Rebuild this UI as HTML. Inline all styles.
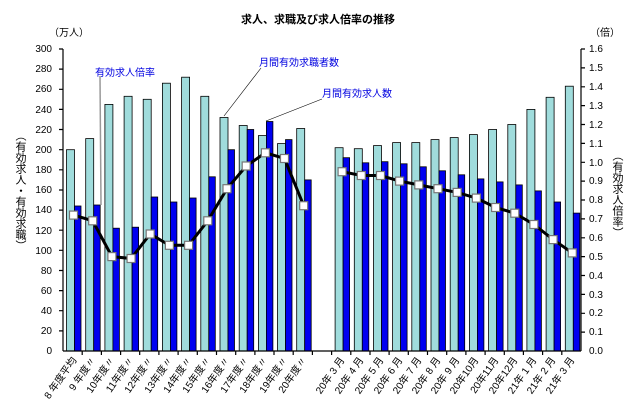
<!DOCTYPE html>
<html><head><meta charset="utf-8"><style>
body{margin:0;background:#fff}
svg{display:block;font-family:"Liberation Sans","Noto Sans CJK JP",sans-serif}
.v{writing-mode:vertical-rl;font-size:11px}
</style></head><body>
<svg width="636" height="413" viewBox="0 0 636 413" xmlns="http://www.w3.org/2000/svg">
<text x="318" y="23" font-size="11" text-anchor="middle" font-weight="bold">求人、求職及び求人倍率の推移</text>
<text x="49" y="36" font-size="10">（万人）</text>
<text x="590" y="36" font-size="10">（倍）</text>
<text x="20" y="130" class="v">（有効求人・有効求職）</text>
<text x="617" y="150" class="v">（有効求人倍率）</text>
<!-- light bars -->
<g fill="#a0dcdc" stroke="#000" stroke-width="0.8">
<rect x="66.5" y="149.7" width="8" height="201.3"/><rect x="85.7" y="138.6" width="8" height="212.4"/><rect x="104.9" y="104.4" width="8" height="246.6"/><rect x="124.1" y="96.3" width="8" height="254.7"/><rect x="143.2" y="99.3" width="8" height="251.7"/><rect x="162.4" y="83.2" width="8" height="267.8"/><rect x="181.6" y="77.2" width="8" height="273.8"/><rect x="200.8" y="96.3" width="8" height="254.7"/><rect x="220" y="117.5" width="8" height="233.5"/><rect x="239.2" y="125.5" width="8" height="225.5"/><rect x="258.4" y="135.6" width="8" height="215.4"/><rect x="277.5" y="143.6" width="8" height="207.4"/><rect x="296.7" y="128.5" width="8" height="222.5"/>
<rect x="335.1" y="147.7" width="8" height="203.3"/><rect x="354.3" y="148.7" width="8" height="202.3"/><rect x="373.5" y="145.6" width="8" height="205.4"/><rect x="392.6" y="142.6" width="8" height="208.4"/><rect x="411.8" y="142.6" width="8" height="208.4"/><rect x="431" y="139.6" width="8" height="211.4"/><rect x="450.2" y="137.6" width="8" height="213.4"/><rect x="469.4" y="134.6" width="8" height="216.4"/><rect x="488.6" y="129.5" width="8" height="221.5"/><rect x="507.8" y="124.5" width="8" height="226.5"/><rect x="526.9" y="109.4" width="8" height="241.6"/><rect x="546.1" y="97.3" width="8" height="253.7"/><rect x="565.3" y="86.2" width="8" height="264.8"/>
</g>
<g fill="#0000f0" stroke="#000" stroke-width="0.8">
<rect x="74.5" y="206" width="6.5" height="145"/><rect x="93.7" y="205" width="6.5" height="146"/><rect x="112.9" y="228.2" width="6.5" height="122.8"/><rect x="132.1" y="227.2" width="6.5" height="123.8"/><rect x="151.2" y="197" width="6.5" height="154"/><rect x="170.4" y="202" width="6.5" height="149"/><rect x="189.6" y="198" width="6.5" height="153"/><rect x="208.8" y="176.8" width="6.5" height="174.2"/><rect x="228" y="149.7" width="6.5" height="201.3"/><rect x="247.2" y="129.5" width="6.5" height="221.5"/><rect x="266.4" y="121.5" width="6.5" height="229.5"/><rect x="285.5" y="139.6" width="6.5" height="211.4"/><rect x="304.7" y="179.9" width="6.5" height="171.1"/>
<rect x="343.1" y="157.7" width="6.5" height="193.3"/><rect x="362.3" y="162.8" width="6.5" height="188.2"/><rect x="381.5" y="161.7" width="6.5" height="189.3"/><rect x="400.6" y="163.8" width="6.5" height="187.2"/><rect x="419.8" y="166.8" width="6.5" height="184.2"/><rect x="439" y="170.8" width="6.5" height="180.2"/><rect x="458.2" y="174.8" width="6.5" height="176.2"/><rect x="477.4" y="178.9" width="6.5" height="172.1"/><rect x="496.6" y="181.9" width="6.5" height="169.1"/><rect x="515.8" y="184.9" width="6.5" height="166.1"/><rect x="534.9" y="190.9" width="6.5" height="160.1"/><rect x="554.1" y="202" width="6.5" height="149"/><rect x="573.3" y="213.1" width="6.5" height="137.9"/>
</g>
<!-- annotation lines -->
<line x1="100" y1="76" x2="101" y2="205" stroke="#999" stroke-width="1.5"/>
<line x1="261" y1="68" x2="224" y2="116" stroke="#000" stroke-width="0.6"/>
<line x1="322" y1="99" x2="266" y2="121" stroke="#000" stroke-width="0.6"/>
<g font-size="10" fill="#0000e0">
<text x="95" y="76">有効求人倍率</text>
<text x="259" y="66">月間有効求職者数</text>
<text x="322" y="97">月間有効求人数</text>
</g>
<!-- ratio lines -->
<g fill="none" stroke="#000" stroke-width="3">
<polyline points="73.5,215.1 92.7,220.8 111.9,256.6 131.1,258.5 150.2,234 169.4,245.3 188.6,245.3 207.8,220.8 227,188.7 246.2,166 265.4,152.8 284.5,158.5 303.7,205.7"/>
<polyline points="342.1,171.7 361.3,175.5 380.5,175.5 399.6,181.1 418.8,184.9 438,188.7 457.2,192.4 476.4,198.1 495.6,207.5 514.8,213.2 533.9,224.5 553.1,239.6 572.3,252.9"/>
</g>
<g fill="#fff" stroke="#777" stroke-width="1.2">
<rect x="69.5" y="211.1" width="8" height="8"/><rect x="88.7" y="216.8" width="8" height="8"/><rect x="107.9" y="252.6" width="8" height="8"/><rect x="127.1" y="254.5" width="8" height="8"/><rect x="146.2" y="230" width="8" height="8"/><rect x="165.4" y="241.3" width="8" height="8"/><rect x="184.6" y="241.3" width="8" height="8"/><rect x="203.8" y="216.8" width="8" height="8"/><rect x="223" y="184.7" width="8" height="8"/><rect x="242.2" y="162" width="8" height="8"/><rect x="261.4" y="148.8" width="8" height="8"/><rect x="280.5" y="154.5" width="8" height="8"/><rect x="299.7" y="201.7" width="8" height="8"/>
<rect x="338.1" y="167.7" width="8" height="8"/><rect x="357.3" y="171.5" width="8" height="8"/><rect x="376.5" y="171.5" width="8" height="8"/><rect x="395.6" y="177.1" width="8" height="8"/><rect x="414.8" y="180.9" width="8" height="8"/><rect x="434" y="184.7" width="8" height="8"/><rect x="453.2" y="188.4" width="8" height="8"/><rect x="472.4" y="194.1" width="8" height="8"/><rect x="491.6" y="203.5" width="8" height="8"/><rect x="510.8" y="209.2" width="8" height="8"/><rect x="529.9" y="220.5" width="8" height="8"/><rect x="549.1" y="235.6" width="8" height="8"/><rect x="568.3" y="248.9" width="8" height="8"/>
</g>
<!-- axes -->
<g stroke="#000" stroke-width="1.2" fill="none">
<line x1="63" y1="49" x2="63" y2="351"/><line x1="581" y1="49" x2="581" y2="351"/><line x1="63" y1="351" x2="581" y2="351"/>
<path d="M59 49h4M59 69.1h4M59 89.3h4M59 109.4h4M59 129.5h4M59 149.7h4M59 169.8h4M59 190h4M59 210.1h4M59 230.2h4M59 250.3h4M59 270.5h4M59 290.6h4M59 310.7h4M59 330.9h4"/>
<path d="M581 49h4M581 67.9h4M581 86.8h4M581 105.6h4M581 124.5h4M581 143.4h4M581 162.3h4M581 181.1h4M581 200h4M581 218.9h4M581 237.8h4M581 256.6h4M581 275.5h4M581 294.4h4M581 313.3h4M581 332.1h4"/>
<path d="M82.2 351v4M101.4 351v4M120.6 351v4M139.7 351v4M158.9 351v4M178.1 351v4M197.3 351v4M216.5 351v4M235.7 351v4M254.9 351v4M274 351v4M293.2 351v4M312.4 351v4M331.6 351v4M350.8 351v4M370 351v4M389.1 351v4M408.3 351v4M427.5 351v4M446.7 351v4M465.9 351v4M485.1 351v4M504.3 351v4M523.4 351v4M542.6 351v4M561.8 351v4"/>
</g>
<g font-size="10" text-anchor="end">
<text x="52" y="52">300</text><text x="52" y="72">280</text><text x="52" y="92">260</text><text x="52" y="113">240</text><text x="52" y="133">220</text><text x="52" y="153">200</text><text x="52" y="173">180</text><text x="52" y="193">160</text><text x="52" y="213">140</text><text x="52" y="234">120</text><text x="52" y="254">100</text><text x="52" y="274">80</text><text x="52" y="294">60</text><text x="52" y="314">40</text><text x="52" y="334">20</text><text x="52" y="354">0</text>
</g>
<g font-size="10">
<text x="589" y="52">1.6</text><text x="589" y="71">1.5</text><text x="589" y="90">1.4</text><text x="589" y="109">1.3</text><text x="589" y="128">1.2</text><text x="589" y="147">1.1</text><text x="589" y="166">1.0</text><text x="589" y="184">0.9</text><text x="589" y="203">0.8</text><text x="589" y="222">0.7</text><text x="589" y="241">0.6</text><text x="589" y="260">0.5</text><text x="589" y="279">0.4</text><text x="589" y="298">0.3</text><text x="589" y="316">0.2</text><text x="589" y="335">0.1</text><text x="589" y="354">0.0</text>
</g>
<g font-size="10" text-anchor="end">
<text transform="translate(77,360) rotate(-55)">8 年度平均</text>
<text transform="translate(96,360) rotate(-55)">9 年度〃</text>
<text transform="translate(115,360) rotate(-55)">10年度〃</text>
<text transform="translate(134,360) rotate(-55)">11年度〃</text>
<text transform="translate(153,360) rotate(-55)">12年度〃</text>
<text transform="translate(173,360) rotate(-55)">13年度〃</text>
<text transform="translate(192,360) rotate(-55)">14年度〃</text>
<text transform="translate(211,360) rotate(-55)">15年度〃</text>
<text transform="translate(230,360) rotate(-55)">16年度〃</text>
<text transform="translate(249,360) rotate(-55)">17年度〃</text>
<text transform="translate(268,360) rotate(-55)">18年度〃</text>
<text transform="translate(288,360) rotate(-55)">19年度〃</text>
<text transform="translate(307,360) rotate(-55)">20年度〃</text>
<text transform="translate(345,360) rotate(-55)">20年 3 月</text>
<text transform="translate(364,360) rotate(-55)">20年 4 月</text>
<text transform="translate(384,360) rotate(-55)">20年 5 月</text>
<text transform="translate(403,360) rotate(-55)">20年 6 月</text>
<text transform="translate(422,360) rotate(-55)">20年 7 月</text>
<text transform="translate(441,360) rotate(-55)">20年 8 月</text>
<text transform="translate(460,360) rotate(-55)">20年 9 月</text>
<text transform="translate(479,360) rotate(-55)">20年10月</text>
<text transform="translate(499,360) rotate(-55)">20年11月</text>
<text transform="translate(518,360) rotate(-55)">20年12月</text>
<text transform="translate(537,360) rotate(-55)">21年 1 月</text>
<text transform="translate(556,360) rotate(-55)">21年 2 月</text>
<text transform="translate(575,360) rotate(-55)">21年 3 月</text>
</g>
</svg>
</body></html>
